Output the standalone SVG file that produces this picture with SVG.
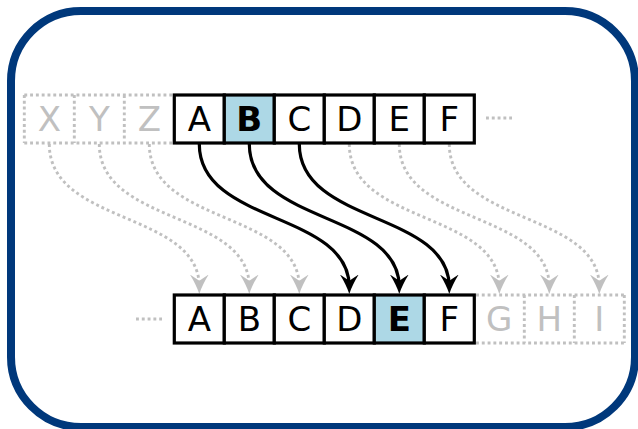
<svg xmlns="http://www.w3.org/2000/svg" width="638" height="429" viewBox="0 0 638 429">
<style>
.cell{fill:#fff;stroke:#000;stroke-width:3.2}
.hl{fill:#add8e6}
.t{font-family:"DejaVu Sans",sans-serif;font-size:34px;text-anchor:middle;fill:#000}
.b{font-weight:bold}
.g{fill:#c0c0c0}
.dot{fill:none;stroke:#c0c0c0;stroke-width:2.9;stroke-dasharray:2.9 2.9}
.arr{fill:none;stroke:#000;stroke-width:3.2}
.garr{fill:none;stroke:#c0c0c0;stroke-width:2.9;stroke-dasharray:2.9 2.9}
</style>
<defs>
<marker id="ah" markerUnits="userSpaceOnUse" markerWidth="20" markerHeight="20" viewBox="0 -8 16 16" refX="10" refY="0" orient="auto">
<path d="M15.5,0 C10,-1.8 5,-4.5 0,-7.5 L5,0 L0,7.5 C5,4.5 10,1.8 15.5,0 Z" fill="#000"/>
</marker>
<marker id="gah" markerUnits="userSpaceOnUse" markerWidth="20" markerHeight="20" viewBox="0 -8 16 16" refX="10" refY="0" orient="auto">
<path d="M15.5,0 C10,-1.8 5,-4.5 0,-7.5 L5,0 L0,7.5 C5,4.5 10,1.8 15.5,0 Z" fill="#c0c0c0"/>
</marker>
</defs>
<rect x="11" y="11" width="624" height="416" rx="70" ry="70" fill="#fff" stroke="#00387b" stroke-width="8"/>

<g id="connectors">
<path class="arr" d="M199.3,144 C199.3,225 349.3,211 349.3,287" marker-end="url(#ah)"/>
<path class="arr" d="M249.3,144 C249.3,225 399.3,211 399.3,287" marker-end="url(#ah)"/>
<path class="arr" d="M299.3,144 C299.3,225 449.3,211 449.3,287" marker-end="url(#ah)"/>
<path class="garr" d="M49.3,144 C49.3,225 199.3,211 199.3,287" marker-end="url(#gah)"/>
<path class="garr" d="M99.3,144 C99.3,225 249.3,211 249.3,287" marker-end="url(#gah)"/>
<path class="garr" d="M149.3,144 C149.3,225 299.3,211 299.3,287" marker-end="url(#gah)"/>
<path class="garr" d="M349.3,144 C349.3,225 499.3,211 499.3,287" marker-end="url(#gah)"/>
<path class="garr" d="M399.3,144 C399.3,225 549.3,211 549.3,287" marker-end="url(#gah)"/>
<path class="garr" d="M449.3,144 C449.3,225 599.3,211 599.3,287" marker-end="url(#gah)"/>
<path class="dot" d="M486,118 H512"/>
<path class="dot" d="M136,319 H162"/>
</g>

<g id="top-ghost">
<path class="dot" d="M24.3,95 H174.3 M24.3,143 H174.3 M24.3,95 V143 M74.3,95 V143 M124.3,95 V143"/>
<text class="t g" x="49.3" y="131">X</text>
<text class="t g" x="99.3" y="131">Y</text>
<text class="t g" x="149.3" y="131">Z</text>
</g>
<g id="top-A"><rect class="cell" x="174.3" y="95" width="50" height="48"/><text class="t" x="199.3" y="131">A</text></g>
<g id="top-B"><rect class="cell hl" x="224.3" y="95" width="50" height="48"/><text class="t b" x="249.3" y="131">B</text></g>
<g id="top-C"><rect class="cell" x="274.3" y="95" width="50" height="48"/><text class="t" x="299.3" y="131">C</text></g>
<g id="top-D"><rect class="cell" x="324.3" y="95" width="50" height="48"/><text class="t" x="349.3" y="131">D</text></g>
<g id="top-E"><rect class="cell" x="374.3" y="95" width="50" height="48"/><text class="t" x="399.3" y="131">E</text></g>
<g id="top-F"><rect class="cell" x="424.3" y="95" width="50" height="48"/><text class="t" x="449.3" y="131">F</text></g>

<g id="bot-A"><rect class="cell" x="174.3" y="295" width="50" height="48"/><text class="t" x="199.3" y="331">A</text></g>
<g id="bot-B"><rect class="cell" x="224.3" y="295" width="50" height="48"/><text class="t" x="249.3" y="331">B</text></g>
<g id="bot-C"><rect class="cell" x="274.3" y="295" width="50" height="48"/><text class="t" x="299.3" y="331">C</text></g>
<g id="bot-D"><rect class="cell" x="324.3" y="295" width="50" height="48"/><text class="t" x="349.3" y="331">D</text></g>
<g id="bot-E"><rect class="cell hl" x="374.3" y="295" width="50" height="48"/><text class="t b" x="399.3" y="331">E</text></g>
<g id="bot-F"><rect class="cell" x="424.3" y="295" width="50" height="48"/><text class="t" x="449.3" y="331">F</text></g>
<g id="bot-ghost">
<path class="dot" d="M476,295 H626 M476,343 H626 M524.3,295 V343 M574.3,295 V343 M624.3,295 V343"/>
<text class="t g" x="499.3" y="331">G</text>
<text class="t g" x="549.3" y="331">H</text>
<text class="t g" x="599.3" y="331">I</text>
</g>
</svg>
